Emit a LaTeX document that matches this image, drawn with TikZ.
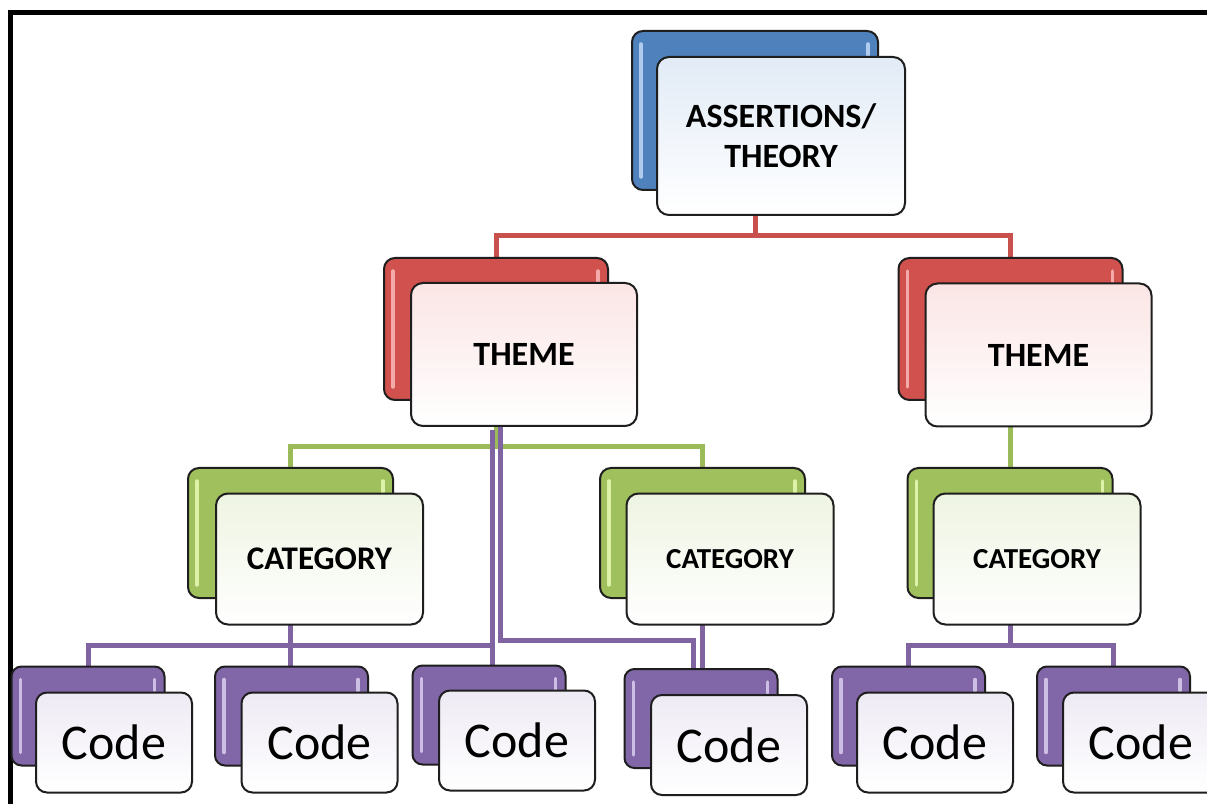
\documentclass[tikz,border=0pt]{standalone}
\usepackage{fontspec}
\setmainfont{Carlito}
\usetikzlibrary{calc}

\definecolor{edge}{HTML}{1E1E1E}
\definecolor{blueB}{HTML}{4F81BD}
\definecolor{redB}{HTML}{D0514E}
\definecolor{greenB}{HTML}{9FC05C}
\definecolor{purpleB}{HTML}{8267A8}
\definecolor{blueF}{HTML}{E2EBF6}
\definecolor{redF}{HTML}{FBE5E5}
\definecolor{greenF}{HTML}{EEF4E2}
\definecolor{purpleF}{HTML}{EEEAF4}
\definecolor{blueH}{HTML}{AFCBEE}
\definecolor{redH}{HTML}{F4AAA8}
\definecolor{greenH}{HTML}{DDF2A8}
\definecolor{purpleH}{HTML}{CDBEE4}
\definecolor{redW}{HTML}{C8504D}
\definecolor{greenW}{HTML}{9BBB59}
\definecolor{purpleW}{HTML}{8064A2}

\pgfdeclarelayer{paper}
\pgfdeclarelayer{wires}
\pgfsetlayers{paper,wires,main}

\tikzset{
  backbox/.style={draw=edge, line width=2pt, rounded corners=11pt,
    inner sep=0pt, outer sep=0pt},
  frontbox/.style={draw=edge, line width=2pt, rounded corners=12pt,
    inner sep=0pt, outer sep=0pt, align=center, text=black},
  lvltop/.style={minimum width=246pt, minimum height=159pt},
  lvltopf/.style={minimum width=248pt, minimum height=158pt},
  lvltheme/.style={minimum width=224pt, minimum height=142pt},
  lvlthemef/.style={minimum width=226pt, minimum height=143pt},
  lvlcat/.style={minimum width=205pt, minimum height=130pt},
  lvlcatf/.style={minimum width=207pt, minimum height=131pt},
  lvlcode/.style={minimum width=153pt, minimum height=99pt, rounded corners=10pt},
  lvlcodef/.style={minimum width=156pt, minimum height=100pt, rounded corners=11pt},
  bigfont/.style={font=\fontsize{34}{40}\selectfont\bfseries},
  catfont/.style={font=\fontsize{33}{40}\selectfont\bfseries},
  smallcat/.style={font=\fontsize{29}{34}\selectfont\bfseries},
  codefont/.style={font=\fontsize{50}{60}\selectfont},
  bluefront/.style={top color=blueF, bottom color=white},
  redfront/.style={top color=redF, bottom color=white},
  greenfront/.style={top color=greenF, bottom color=white},
  purplefront/.style={top color=purpleF, bottom color=white},
  wire/.style={line width=5pt},
}

\begin{document}
\begin{tikzpicture}[x=1pt, y=1pt]
\useasboundingbox (0,0) rectangle (1207,804);
\begin{pgfonlayer}{paper}
  \fill[white] (0,0) rectangle (1207,804);
\end{pgfonlayer}

% outer frame (top and left sides)
\draw[line width=5pt, black, line join=miter] (10.5,0) -- (10.5,791.5) -- (1207,791.5);

% back (coloured) boxes
\node[backbox, lvltop,   fill=blueB]   (topB)  at (755,693.5) {};
\node[backbox, lvltheme, fill=redB]    (thLB)  at (496,475) {};
\node[backbox, lvltheme, fill=redB]    (thRB)  at (1010.5,475) {};
\node[backbox, lvlcat,   fill=greenB]  (catLB) at (290.5,271) {};
\node[backbox, lvlcat,   fill=greenB]  (catMB) at (702.5,271) {};
\node[backbox, lvlcat,   fill=greenB]  (catRB) at (1010,271) {};
\node[backbox, lvlcode,  fill=purpleB] (c1B)   at (88,88) {};
\node[backbox, lvlcode,  fill=purpleB] (c2B)   at (291.5,88) {};
\node[backbox, lvlcode,  fill=purpleB] (c3B)   at (489,89) {};
\node[backbox, lvlcode,  fill=purpleB] (c4B)   at (701,85.5) {};
\node[backbox, lvlcode,  fill=purpleB] (c5B)   at (908.5,88) {};
\node[backbox, lvlcode,  fill=purpleB] (c6B)   at (1113.5,88) {};

% glossy highlight strips on the back boxes
\foreach \n/\c in {topB/blueH, thLB/redH, thRB/redH, catLB/greenH, catMB/greenH,
    catRB/greenH, c1B/purpleH, c2B/purpleH, c3B/purpleH, c4B/purpleH,
    c5B/purpleH, c6B/purpleH} {
  \draw[\c, line width=3.5pt, line cap=round]
    ($(\n.north west)+(9,-13)$) -- ($(\n.south west)+(9,13)$);
  \draw[\c, line width=3.5pt, line cap=round]
    ($(\n.north east)+(-10,-13)$) -- ($(\n.north east)+(-10,-24)$);
}

% front (labelled) boxes
\node[frontbox, lvltopf,   bluefront,   bigfont]  (topF)  at (781,668) {ASSERTIONS/\\THEORY};
\node[frontbox, lvlthemef, redfront,    bigfont]  (thLF)  at (524,449.5) {THEME};
\node[frontbox, lvlthemef, redfront,    bigfont]  (thRF)  at (1038.5,449) {THEME};
\node[frontbox, lvlcatf,   greenfront,  catfont]  (catLF) at (319.5,245) {CATEGORY};
\node[frontbox, lvlcatf,   greenfront,  smallcat] (catMF) at (730,245) {CATEGORY};
\node[frontbox, lvlcatf,   greenfront,  smallcat] (catRF) at (1037,245) {CATEGORY};
\node[frontbox, lvlcodef,  purplefront, codefont] (c1F)   at (114,61.5) {Code};
\node[frontbox, lvlcodef,  purplefront, codefont] (c2F)   at (319.5,61.5) {Code};
\node[frontbox, lvlcodef,  purplefront, codefont] (c3F)   at (517,63.5) {Code};
\node[frontbox, lvlcodef,  purplefront, codefont] (c4F)   at (729,59) {Code};
\node[frontbox, lvlcodef,  purplefront, codefont] (c5F)   at (935,61.5) {Code};
\node[frontbox, lvlcodef,  purplefront, codefont] (c6F)   at (1141,61.5) {Code};

% bus levels and offsets used by the connectors
\coordinate (redbar)   at (0,568);
\coordinate (greenbar) at (0,357);
\coordinate (pbar)     at (0,159);
\coordinate (qbar)     at (0,164);
\coordinate (longx)    at ($(thLB.center)+(-4,0)$);
\coordinate (shortx)   at ($(thLB.center)+(4,0)$);

\begin{pgfonlayer}{wires}
  % theory -> themes
  \draw[wire, redW] (topB.center |- topF.south) -- (topB.center |- redbar) coordinate (rj)
    -| (thLB.north);
  \draw[wire, redW] (rj) -| (thRB.north);
  % themes -> categories
  \draw[wire, greenW] (thLB.center |- thLF.south) -- (thLB.center |- greenbar) coordinate (gj)
    -| (catLB.north);
  \draw[wire, greenW] (gj) -| (catMB.north);
  \draw[wire, greenW] (thRB.center |- thRF.south) -- (thRB.center |- catRB.north);
  % categories -> codes
  \draw[wire, purpleW] (catLB.center |- catLF.south) -- (catLB.center |- c2B.north);
  \draw[wire, purpleW] (c1B.north) |- (longx |- pbar);
  \draw[wire, purpleW] (longx |- thLF.south) ++(0,-4) -- (longx |- c3B.north);
  \draw[wire, purpleW] (shortx |- thLF.south) |- ($(c4B.center |- qbar)+(-8,0)$)
    -- ($(c4B.north)+(-8,0)$);
  \draw[wire, purpleW] (catMB.center |- catMF.south) -- (catMB.center |- c4B.north);
  \draw[wire, purpleW] (catRB.center |- catRF.south) -- (catRB.center |- pbar);
  \draw[wire, purpleW] (c5B.north) |- (c6B.north |- pbar) -- (c6B.north);
\end{pgfonlayer}
\end{tikzpicture}
\end{document}
